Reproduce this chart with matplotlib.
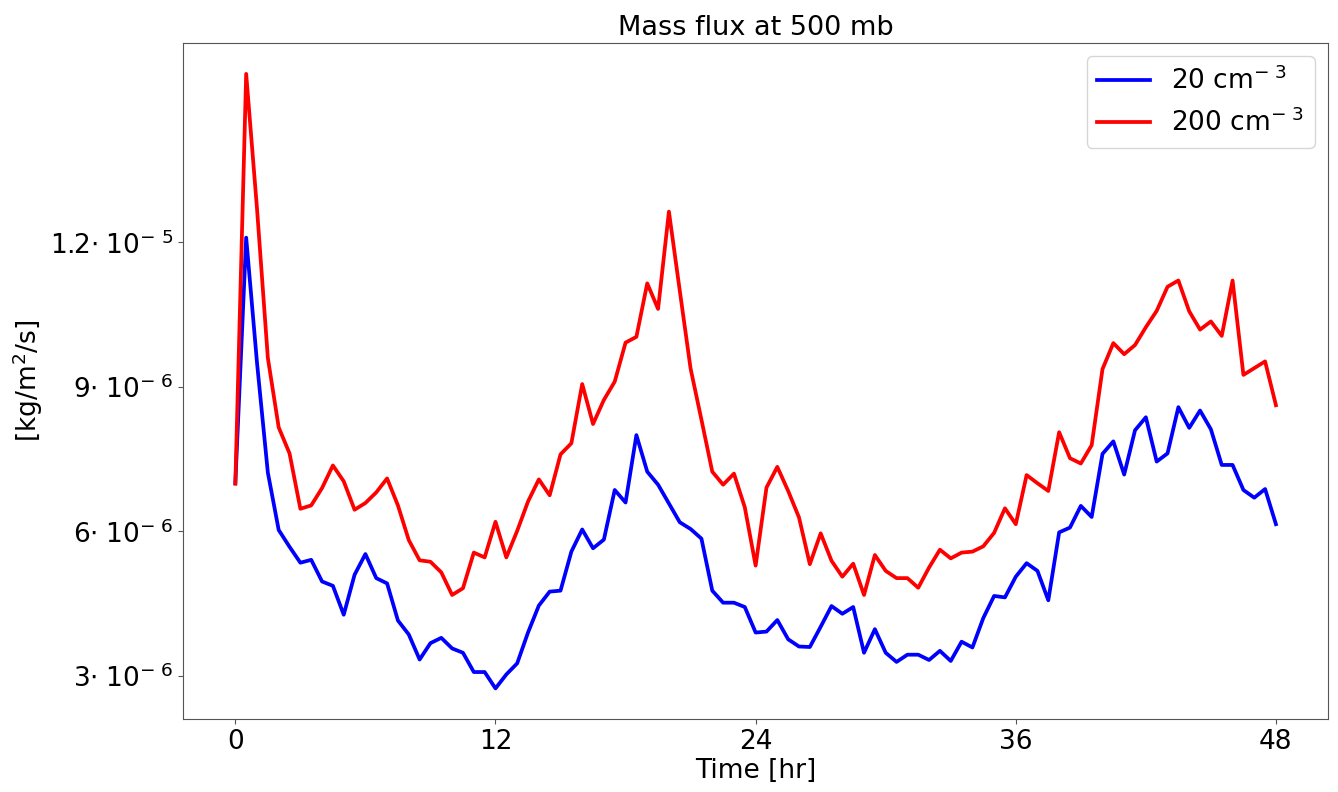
import numpy as np
import matplotlib
matplotlib.use('Agg')
import matplotlib.pyplot as plt
from matplotlib.ticker import FixedLocator, FuncFormatter

# Time axis: every half hour over 48 hours
time_hr = np.arange(0, 48.5, 0.5)

# Mass flux values in units of 1e-6 kg/m2/s
flux_20 = [
    7.0, 12.1, 9.5, 7.22, 6.03, 5.68, 5.35, 5.41, 4.96, 4.87,
    4.27, 5.1, 5.53, 5.03, 4.92, 4.15, 3.86, 3.34, 3.68, 3.79,
    3.57, 3.48, 3.08, 3.08, 2.74, 3.03, 3.26, 3.9, 4.46, 4.75,
    4.77, 5.58, 6.04, 5.65, 5.83, 6.86, 6.6, 8.0, 7.24, 6.97,
    6.58, 6.19, 6.05, 5.85, 4.77, 4.52, 4.52, 4.43, 3.9, 3.92,
    4.16, 3.76, 3.61, 3.6, 4.02, 4.45, 4.29, 4.43, 3.48, 3.97,
    3.48, 3.29, 3.44, 3.44, 3.33, 3.52, 3.31, 3.71, 3.59, 4.2,
    4.66, 4.63, 5.06, 5.34, 5.18, 4.57, 5.98, 6.08, 6.53, 6.3,
    7.61, 7.87, 7.18, 8.1, 8.37, 7.45, 7.62, 8.58, 8.15, 8.51,
    8.12, 7.38, 7.38, 6.86, 6.7, 6.88, 6.15,
]
flux_200 = [
    6.99, 15.5, 12.7, 9.6, 8.16, 7.62, 6.47, 6.54, 6.9, 7.37,
    7.04, 6.45, 6.59, 6.81, 7.1, 6.54, 5.82, 5.4, 5.37, 5.15,
    4.68, 4.82, 5.56, 5.46, 6.2, 5.46, 6.01, 6.62, 7.08, 6.75,
    7.6, 7.83, 9.06, 8.23, 8.73, 9.11, 9.92, 10.04, 11.15, 10.62,
    12.64, 11.0, 9.38, 8.32, 7.24, 6.97, 7.2, 6.5, 5.29, 6.91,
    7.34, 6.84, 6.29, 5.32, 5.96, 5.39, 5.06, 5.33, 4.68, 5.51,
    5.18, 5.03, 5.03, 4.83, 5.25, 5.62, 5.44, 5.56, 5.58, 5.69,
    5.97, 6.48, 6.15, 7.17, 7.0, 6.84, 8.06, 7.52, 7.41, 7.79,
    9.37, 9.91, 9.68, 9.87, 10.24, 10.58, 11.08, 11.21, 10.57, 10.19,
    10.36, 10.06, 11.21, 9.25, 9.39, 9.53, 8.62,
]

x_ticks = [0, 12, 24, 36, 48]
y_ticks = [3e-6, 6e-6, 9e-6, 1.2e-5]


def sci_label(val, pos):
    # e.g. 1.2·10^-5
    exp = int(np.floor(np.log10(val)))
    mant = val / 10**exp
    mant_str = f"{mant:.1f}".rstrip('0').rstrip('.')
    return r'$%s{\cdot}\;10^{-\ %d}$' % (mant_str, -exp)


fig = plt.figure(figsize=(13.38, 7.92), dpi=100)
ax = fig.add_axes([0.137, 0.092, 0.8555, 0.8535])

ax.plot(time_hr, np.array(flux_20) * 1e-6, color='blue', lw=2.7,
        label=r'20 cm$^{-\ 3}$')
ax.plot(time_hr, np.array(flux_200) * 1e-6, color='red', lw=2.7,
        label=r'200 cm$^{-\ 3}$')

ax.xaxis.set_major_locator(FixedLocator(x_ticks))
ax.yaxis.set_major_locator(FixedLocator(y_ticks))
ax.yaxis.set_major_formatter(FuncFormatter(sci_label))
ax.tick_params(labelsize=19, color='#555555')

for edge in ['left', 'right', 'bottom', 'top']:
    ax.spines[edge].set_color('#555555')

ax.set_title('Mass flux at 500 mb', fontsize=19.5)
ax.set_xlabel('Time [hr]', fontsize=19, labelpad=2)
ax.set_ylabel(r'[kg/m$^2$/s]', fontsize=19)
ax.legend(loc='upper right', fontsize=19)

fig.savefig('out.png', dpi=100)
